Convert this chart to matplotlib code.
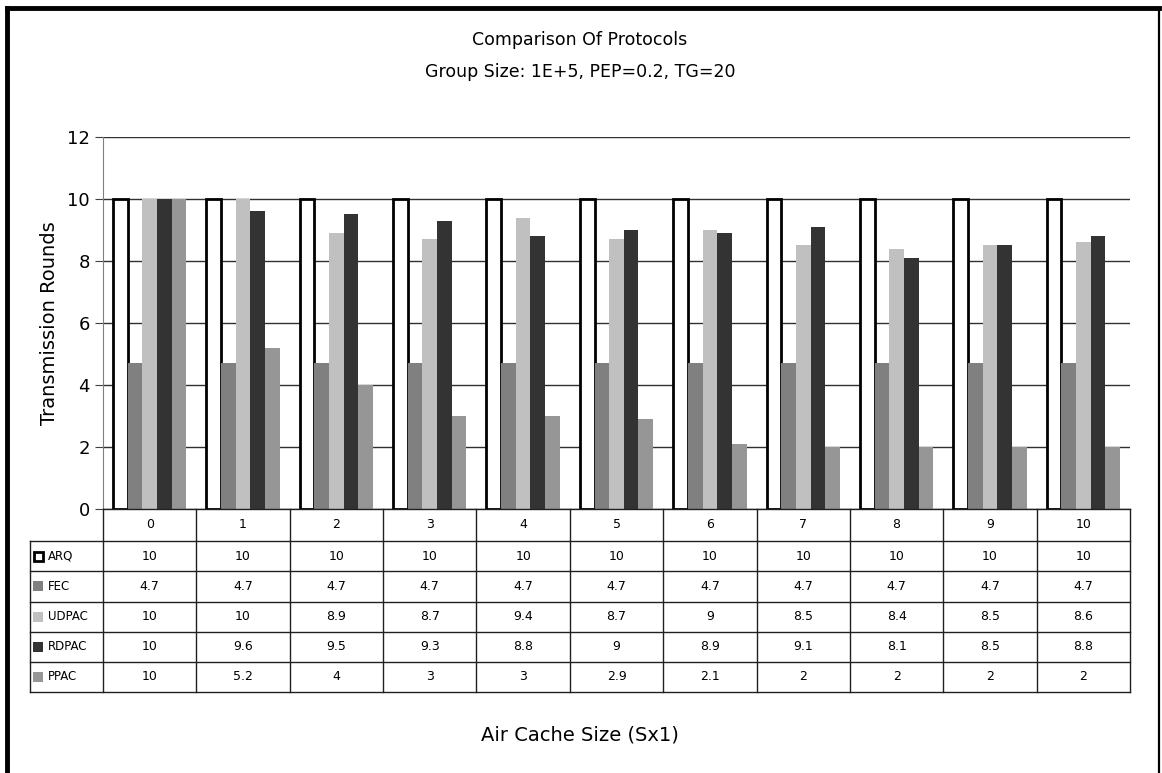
import numpy as np
import matplotlib.pyplot as plt
from matplotlib.patches import Rectangle
from matplotlib.lines import Line2D

cache_sizes = [0, 1, 2, 3, 4, 5, 6, 7, 8, 9, 10]
protocols = ["ARQ", "FEC", "UDPAC", "RDPAC", "PPAC"]
arq = [10, 10, 10, 10, 10, 10, 10, 10, 10, 10, 10]
fec = [4.7, 4.7, 4.7, 4.7, 4.7, 4.7, 4.7, 4.7, 4.7, 4.7, 4.7]
udpac = [10, 10, 8.9, 8.7, 9.4, 8.7, 9, 8.5, 8.4, 8.5, 8.6]
rdpac = [10, 9.6, 9.5, 9.3, 8.8, 9, 8.9, 9.1, 8.1, 8.5, 8.8]
ppac = [10, 5.2, 4, 3, 3, 2.9, 2.1, 2, 2, 2, 2]
series = [arq, fec, udpac, rdpac, ppac]
fills = ["white", "#808080", "#c0c0c0", "#333333", "#969696"]

plt.rcParams['font.family'] = ['DejaVu Sans']
W, H = 1162, 773
fig = plt.figure(figsize=(W / 100, H / 100), dpi=100)

def px(x0, y0, x1, y1):
    # pixel box -> figure fraction rect
    return [x0 / W, 1 - y1 / H, (x1 - x0) / W, (y1 - y0) / H]

# outer frame
fig.add_artist(Line2D([7 / W, 7 / W], [0, 1 - 8 / H], color="black", lw=3.5))
fig.add_artist(Line2D([7 / W, 1159 / W], [1 - 8 / H, 1 - 8 / H], color="black", lw=3.5))
fig.add_artist(Line2D([1159 / W, 1159 / W], [0, 1 - 8 / H], color="black", lw=1.6))

ax = fig.add_axes(px(103, 137, 1130, 509))
x = np.arange(len(cache_sizes))
bw = 0.157
for i, (vals, c) in enumerate(zip(series, fills)):
    if i == 0:
        ax.bar(x + (i - 2) * bw, vals, bw, color=c, edgecolor="black", linewidth=2, zorder=3)
    else:
        ax.bar(x + (i - 2) * bw, vals, bw, color=c, linewidth=0, zorder=3)
ax.set_xlim(-0.5, len(cache_sizes) - 0.5)
ax.set_ylim(0, 12)
ax.set_yticks(range(0, 13, 2))
ax.tick_params(axis="y", direction="out", length=6, labelsize=13, color="#404040")
ax.set_xticks([])
ax.grid(axis="y", color="#303030", linewidth=1, zorder=0)
for s in ["top", "right", "bottom"]:
    ax.spines[s].set_visible(False)
ax.spines["left"].set_color("#808080")
ax.set_ylabel("Transmission Rounds", fontsize=14, labelpad=6)

fig.text(580 / W, 1 - 40 / H, "Comparison Of Protocols", ha="center", va="center", fontsize=12.5)
fig.text(580 / W, 1 - 72 / H, "Group Size: 1E+5, PEP=0.2, TG=20", ha="center", va="center", fontsize=12.5)
fig.text(580 / W, 1 - 735 / H, "Air Cache Size (Sx1)", ha="center", va="center", fontsize=14)

# data table
unit = (1130 - 103) / len(cache_sizes)
left_w = (103 - 30) / unit
tb = fig.add_axes(px(30, 509, 1130, 692))
tb.set_xlim(-0.5 - left_w, len(cache_sizes) - 0.5)
rows = [509, 541, 571, 601.5, 631.5, 661.5, 692]
rows = [r - 509 for r in rows]
tb.set_ylim(rows[-1], 0)
tb.axis("off")
lc = "#202020"
xl = -0.5 - left_w
xr = len(cache_sizes) - 0.5
for r in rows:
    tb.plot([xl if r > 0 else -0.5, xr], [r, r], color=lc, lw=1, clip_on=False)
for k in range(len(cache_sizes) + 1):
    tb.plot([k - 0.5, k - 0.5], [0, rows[-1]], color=lc, lw=1, clip_on=False)
tb.plot([xl, xl], [rows[1], rows[-1]], color=lc, lw=1, clip_on=False)
for k, c in enumerate(cache_sizes):
    tb.text(k, (rows[0] + rows[1]) / 2, str(c), ha="center", va="center", fontsize=9)
for j, (name, vals, c) in enumerate(zip(protocols, series, fills)):
    yc = (rows[j + 1] + rows[j + 2]) / 2
    sq = 9 / unit
    if j == 0:
        tb.add_patch(Rectangle((xl + 0.04, yc - 4.5), sq, 9, facecolor="white",
                               edgecolor="black", lw=2))
    else:
        tb.add_patch(Rectangle((xl + 0.035, yc - 5), sq * 1.1, 10, facecolor=c, lw=0))
    tb.text(xl + 0.19, yc, name, ha="left", va="center", fontsize=8.5)
    for k, v in enumerate(vals):
        tb.text(k, yc, f"{v:g}", ha="center", va="center", fontsize=9)

fig.savefig("out.png", dpi=100)
